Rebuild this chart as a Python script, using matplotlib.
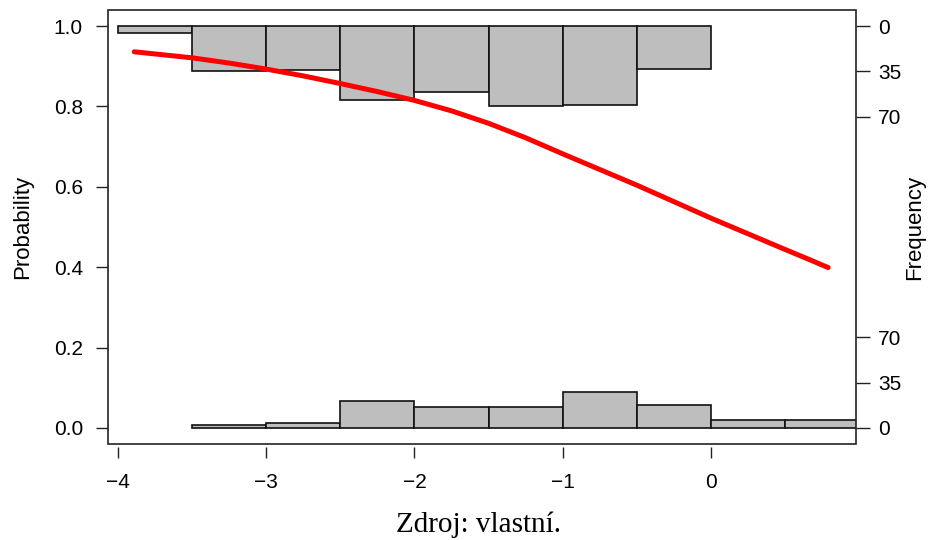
import matplotlib
matplotlib.use('Agg')
import matplotlib.pyplot as plt
from matplotlib.patches import Rectangle

# histogram bins (width 0.5) for the two outcome groups
top_edges = [-4.0, -3.5, -3.0, -2.5, -2.0, -1.5, -1.0, -0.5, 0.0]
top_counts = [5, 35, 34, 57, 51, 62, 61, 33]          # outcome = 1
bottom_edges = [-3.5, -3.0, -2.5, -2.0, -1.5, -1.0, -0.5, 0.0, 0.5, 1.0]
bottom_counts = [2, 4, 21, 16, 16, 28, 18, 6, 6]       # outcome = 0

# fitted probability curve
curve_x = [-3.89, -3.5, -3.25, -3.0, -2.75, -2.5, -2.25, -2.0, -1.75, -1.5,
           -1.25, -1.0, -0.75, -0.5, -0.25, 0.0, 0.25, 0.5, 0.65, 0.79]
curve_p = [0.936, 0.921, 0.908, 0.893, 0.876, 0.857, 0.837, 0.815, 0.789, 0.758,
           0.722, 0.682, 0.643, 0.604, 0.563, 0.522, 0.483, 0.444, 0.421, 0.399]

x_ticks = [-4, -3, -2, -1, 0]
prob_ticks = [0.0, 0.2, 0.4, 0.6, 0.8, 1.0]
freq_ticks = [0, 35, 70]

BAR = '#BEBEBE'
SANS = ['Liberation Sans', 'DejaVu Sans']
FS = 15

fig = plt.figure(figsize=(9.29, 5.40), dpi=100)
ax = fig.add_axes([108 / 929, 96 / 540, 748 / 929, 434 / 540])

# counts are drawn in probability units, tallest bar = 0.2
scale = 0.2 / max(top_counts + bottom_counts)

for i, c in enumerate(top_counts):
    x0, x1 = top_edges[i], top_edges[i + 1]
    ax.bar(x0, -c * scale, width=x1 - x0, bottom=1.0, align='edge',
           color=BAR, edgecolor='#111111', linewidth=1.2, zorder=2)
for i, c in enumerate(bottom_counts):
    x0, x1 = bottom_edges[i], bottom_edges[i + 1]
    ax.bar(x0, c * scale, width=x1 - x0, bottom=0.0, align='edge',
           color=BAR, edgecolor='#111111', linewidth=1.2, zorder=2)

ax.plot(curve_x, curve_p, color='#FF0000', linewidth=3.6,
        solid_capstyle='round', solid_joinstyle='round', zorder=3)

ax.set_xlim(-4.067, 0.978)
ax.set_ylim(-0.04, 1.04)

for s in ax.spines.values():
    s.set_visible(False)
ax.spines['bottom'].set_position(('outward', 2))
ax.add_patch(Rectangle((0, 0), 1, 1, transform=ax.transAxes, fill=False,
                       edgecolor='#222222', linewidth=1.2, clip_on=False, zorder=5))

ax.set_xticks(x_ticks)
ax.set_xticklabels(['\u2212' + str(-t) if t < 0 else str(t) for t in x_ticks])
ax.set_yticks(prob_ticks)
ax.set_yticklabels(['%.1f' % t for t in prob_ticks])
ax.tick_params(axis='x', direction='out', length=8, width=1.0, pad=11,
               labelsize=FS, color='#222222')
ax.tick_params(axis='y', direction='out', length=9, width=1.0, pad=9,
               labelsize=FS, color='#222222')
for lab in ax.get_xticklabels() + ax.get_yticklabels():
    lab.set_family(SANS)

ax.set_ylabel('Probability', fontsize=16, family=SANS)
ax.yaxis.set_label_coords((23 - 108) / 748, 0.5)
ax.yaxis.label.set_verticalalignment('center')

# frequency axis on the right, upper and lower histograms
ax2 = ax.twinx()
ax2.set_ylim(ax.get_ylim())
for s in ax2.spines.values():
    s.set_visible(False)
pos = [1.0 - f * scale for f in freq_ticks] + [f * scale for f in freq_ticks]
ax2.set_yticks(pos)
ax2.set_yticklabels([str(f) for f in freq_ticks] * 2)
ax2.tick_params(axis='y', direction='out', length=10, width=1.0, pad=6,
                labelsize=FS, color='#222222')
for lab in ax2.get_yticklabels():
    lab.set_family(SANS)
ax2.set_ylabel('Frequency', fontsize=16, family=SANS)
ax2.yaxis.set_label_coords((915 - 108) / 748, 0.5)
ax2.yaxis.label.set_verticalalignment('center')

fig.text(479 / 929, (540 - 532) / 540, 'Zdroj: vlastní.', ha='center',
         va='baseline', fontsize=21, family=['Liberation Serif', 'DejaVu Serif'])

fig.savefig('out.png', dpi=100)
